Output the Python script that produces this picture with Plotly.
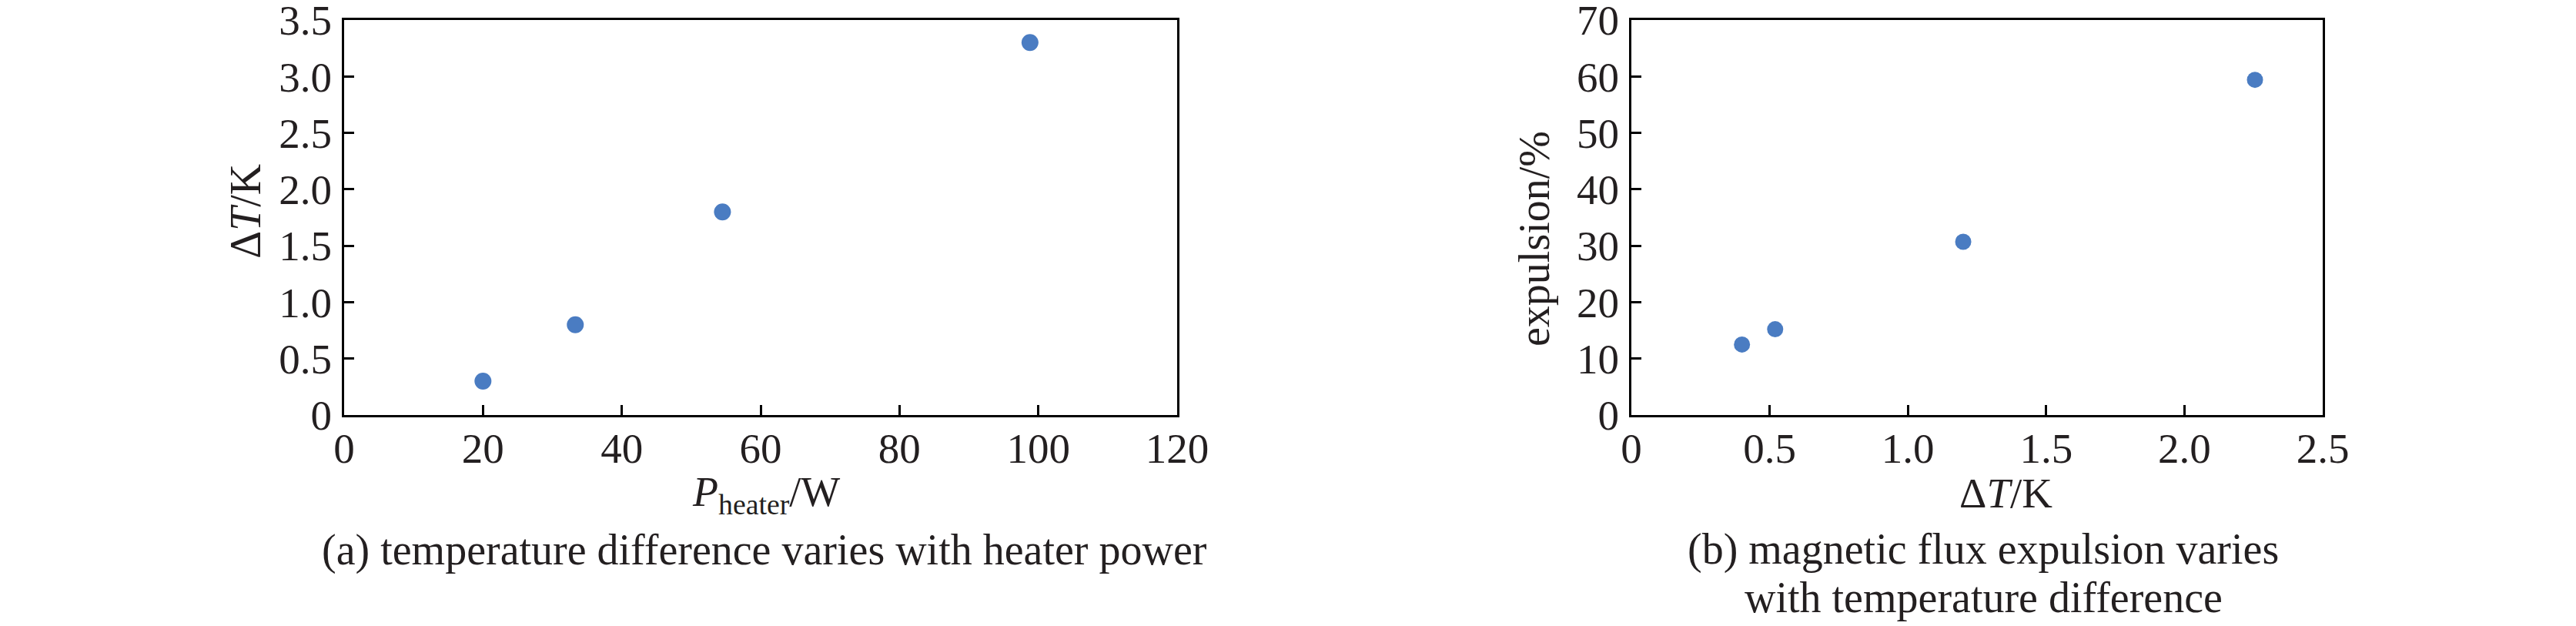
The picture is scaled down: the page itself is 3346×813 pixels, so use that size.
import plotly.graph_objects as go

# ---- data ----
power_w = [20.0, 33.3, 54.5, 98.8]
delta_t_a = [0.3, 0.8, 1.8, 3.3]

delta_t_b = [0.40, 0.52, 1.20, 2.255]
expulsion_pct = [12.5, 15.2, 30.7, 59.4]

xa_ticks = [0, 20, 40, 60, 80, 100, 120]
xa_text = ["0", "20", "40", "60", "80", "100", "120"]
ya_ticks = [0, 0.5, 1.0, 1.5, 2.0, 2.5, 3.0, 3.5]
ya_text = ["0", "0.5", "1.0", "1.5", "2.0", "2.5", "3.0", "3.5"]

xb_ticks = [0, 0.5, 1.0, 1.5, 2.0, 2.5]
xb_text = ["0", "0.5", "1.0", "1.5", "2.0", "2.5"]
yb_ticks = [0, 10, 20, 30, 40, 50, 60, 70]
yb_text = ["0", "10", "20", "30", "40", "50", "60", "70"]

caption_a = "(a) temperature difference varies with heater power"
caption_b1 = "(b) magnetic flux expulsion varies"
caption_b2 = "with temperature difference"

# ---- layout geometry (pixels) ----
W, H = 3346, 813
FONT = "Liberation Serif, Times New Roman, serif"
TXT = "#231f20"
MARK = "#4a7cc2"

def px(x):
    return x / W

def py(y):
    return 1 - y / H

fig = go.Figure()
fig.add_trace(go.Scatter(x=power_w, y=delta_t_a, mode="markers", xaxis="x", yaxis="y",
                         marker=dict(size=22, color=MARK), showlegend=False))
fig.add_trace(go.Scatter(x=delta_t_b, y=expulsion_pct, mode="markers", xaxis="x2", yaxis="y2",
                         marker=dict(size=21, color=MARK), showlegend=False))

axis_common = dict(showline=True, linewidth=3, linecolor="black", mirror=True,
                   ticks="inside", ticklen=13, tickwidth=3, tickcolor="black",
                   showgrid=False, zeroline=False, ticklabeloverflow="allow",
                   automargin=False,
                   tickfont=dict(family=FONT, size=55, color=TXT))

fig.update_layout(
    template="none",
    width=W, height=H,
    margin=dict(l=0, r=0, t=0, b=0, pad=0),
    paper_bgcolor="white", plot_bgcolor="white",
    xaxis=dict(domain=[px(447), px(1529)], range=[0, 120], tickvals=xa_ticks, ticktext=xa_text,
               anchor="y", ticklabelstandoff=-7, **axis_common),
    yaxis=dict(domain=[py(539), py(26)], range=[0, 3.5], tickvals=ya_ticks, ticktext=ya_text,
               anchor="x", ticklabelstandoff=2, **axis_common),
    xaxis2=dict(domain=[px(2119), px(3017)], range=[0, 2.5], tickvals=xb_ticks, ticktext=xb_text,
                anchor="y2", ticklabelstandoff=-7, **axis_common),
    yaxis2=dict(domain=[py(539), py(26)], range=[0, 70], tickvals=yb_ticks, ticktext=yb_text,
                anchor="x2", ticklabelstandoff=2, **axis_common),
)

def ann(text, x, y, size, angle=0):
    fig.add_annotation(text=text, x=px(x), y=py(y), xref="paper", yref="paper",
                       xanchor="center", yanchor="middle", showarrow=False, textangle=angle,
                       font=dict(family=FONT, size=size, color=TXT))

ann("<i>P</i><sub>heater</sub>/W", 995, 642, 54)
ann("Δ<i>T</i>/K", 319, 275, 56, -90)
ann("Δ<i>T</i>/K", 2605, 640, 55)
ann("expulsion/%", 1993, 310, 56, -90)
ann(caption_a, 993, 714, 56)
ann(caption_b1, 2576, 713, 56)
ann(caption_b2, 2576, 776, 56)

fig.write_html("out.html", config={"displayModeBar": False},
               post_script="document.body.style.margin='0px';")
